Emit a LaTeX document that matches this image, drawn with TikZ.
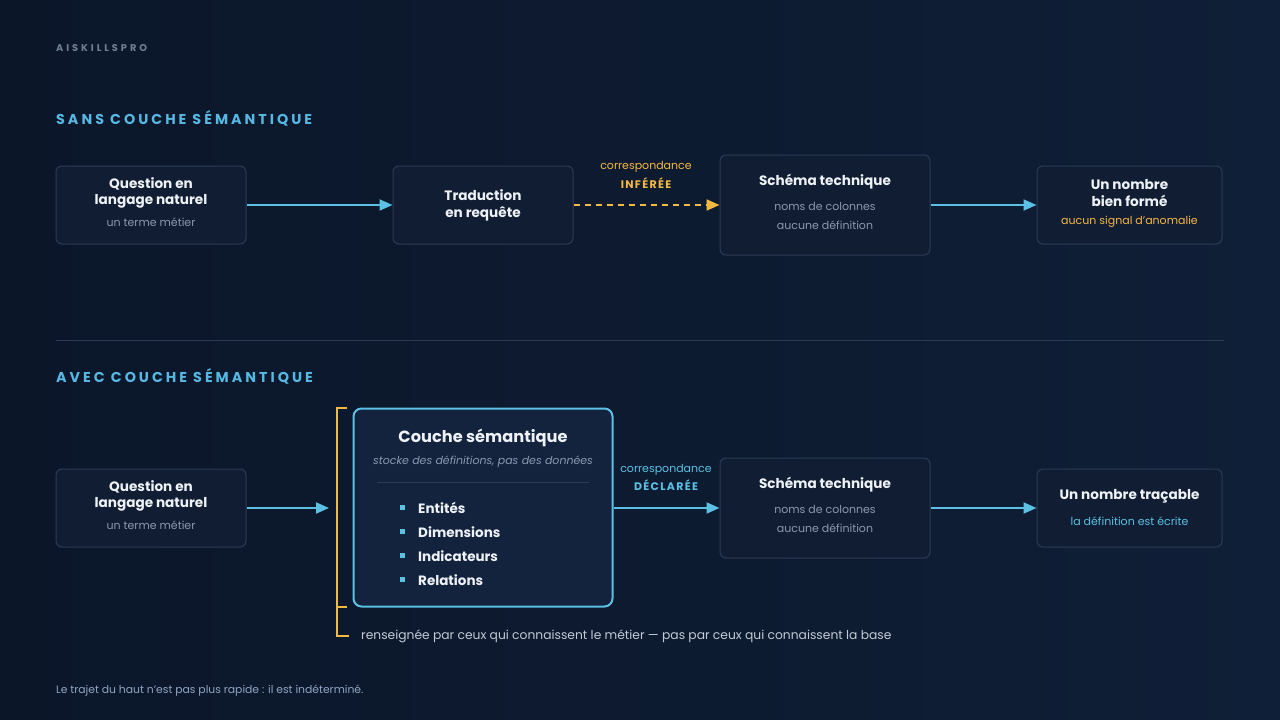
\documentclass[tikz,border=0pt]{standalone}
\usepackage{fontspec}
\setmainfont{Poppins}
\newfontfamily\spaced[LetterSpace=12]{Poppins}
\newfontfamily\hspaced[LetterSpace=21]{Poppins}
\newfontfamily\wide[LetterSpace=30]{Poppins}
\usetikzlibrary{arrows.meta}
\definecolor{bgA}{HTML}{0B1629}
\definecolor{bgB}{HTML}{0F1F37}
\definecolor{boxfill}{HTML}{111D33}
\definecolor{boxline}{HTML}{2B3B55}
\definecolor{semfill}{HTML}{13223D}
\definecolor{txt}{HTML}{EEF2F7}
\definecolor{sub}{HTML}{8A9AB0}
\definecolor{accent}{HTML}{5BC0E4}
\definecolor{head}{HTML}{56B8E2}
\definecolor{amber}{HTML}{F4B942}
\definecolor{brand}{HTML}{6F7F95}
\definecolor{foot}{HTML}{8FA6C4}
\definecolor{capt}{HTML}{C3CBD6}
\tikzset{
  box/.style={draw=boxline, fill=boxfill, rounded corners=6pt, line width=1pt, inner sep=0pt},
  ttl/.style={text=txt, font=\fontsize{13.6}{15}\selectfont\bfseries, inner sep=0pt, yshift=-1.3pt},
  sbt/.style={text=sub, font=\fontsize{11}{13}\selectfont, inner sep=0pt, yshift=-1pt},
  arr/.style={draw=accent, line width=2pt, -{Triangle[length=13pt,width=11pt]}},
  darr/.style={draw=amber, line width=2pt, dash pattern=on 6pt off 5pt, -{Triangle[length=13pt,width=11pt]}},
  hdr/.style={text=head, font=\hspaced\fontsize{14.3}{16}\selectfont\bfseries, anchor=west, inner sep=0pt},
  item/.style={text=txt, font=\fontsize{13.5}{16}\selectfont\bfseries, anchor=west, inner sep=0pt},
  bul/.style={fill=accent, minimum size=5pt, inner sep=0pt},
}
\begin{document}
\begin{tikzpicture}[x=1pt,y=-1pt]
\shade[left color=bgA, right color=bgB] (0,0) rectangle (1280,720);
\useasboundingbox (0,0) rectangle (1280,720);

\node[text=brand, font=\wide\fontsize{9.8}{11}\selectfont\bfseries, anchor=west, inner sep=0pt] (brand) at (56,48.5) {AISKILLSPRO};
\node[hdr] (h1) at (56,118) {SANS COUCHE SÉMANTIQUE};

% top row
\node[box, minimum width=190pt, minimum height=78pt] (b1) at (151,205) {};
\node[ttl] (b1a) at (151,183) {Question en};
\node[ttl] (b1b) at (151,200) {langage naturel};
\node[sbt] (b1c) at (151,221) {un terme métier};

\node[box, minimum width=180pt, minimum height=78pt] (b2) at (483,205) {};
\node[ttl] (b2a) at (483,194) {Traduction};
\node[ttl] (b2b) at (483,213) {en requête};

\node[box, minimum width=210pt, minimum height=100pt] (b3) at (825,205) {};
\node[ttl] (b3a) at (825,180) {Schéma technique};
\node[sbt] (b3b) at (825,205) {noms de colonnes};
\node[sbt] (b3c) at (825,224) {aucune définition};

\node[box, minimum width=185pt, minimum height=78pt] (b4) at (1129.5,205) {};
\node[ttl] (b4a) at (1129.5,183) {Un nombre};
\node[ttl] (b4b) at (1129.5,200) {bien formé};
\node[sbt, text=amber] (b4c) at (1129.5,221) {aucun signal d'anomalie};

\node[text=amber, font=\fontsize{11}{13}\selectfont, inner sep=0pt] (l1a) at (646,166.5) {correspondance};
\node[text=amber, font=\spaced\fontsize{11}{13}\selectfont\bfseries, inner sep=0pt] (l1b) at (646,183.5) {INFÉRÉE};

\draw[arr] (b1.east) -- (b2.west);
\draw[darr] (b2.east) -- (b3.west);
\draw[arr] (b3.east) -- (b4.west);

% separator
\coordinate (s1) at (56,340);
\coordinate (s2) at (1224,340);
\draw[boxline, line width=1pt] (s1) -- (s2);

\node[hdr] (h2) at (56,376) {AVEC COUCHE SÉMANTIQUE};

% bottom row
\node[box, minimum width=190pt, minimum height=78pt] (c1) at (151,508) {};
\node[ttl] (c1a) at (151,486) {Question en};
\node[ttl] (c1b) at (151,503) {langage naturel};
\node[sbt] (c1c) at (151,524) {un terme métier};

% bracket
\coordinate (k1) at (347,408);
\coordinate (k2) at (337,408);
\coordinate (k3) at (337,636);
\coordinate (k4) at (349,636);
\coordinate (k5) at (337,607);
\coordinate (k6) at (347,607);
\coordinate (ain) at (329,508);
\draw[amber, line width=1.6pt] (k1) -- (k2) -- (k3) -- (k4);
\draw[amber, line width=1.6pt] (k5) -- (k6);

\node[draw=accent, fill=semfill, rounded corners=8pt, line width=2pt, minimum width=259pt, minimum height=198pt, inner sep=0pt] (sem) at (483,507.5) {};
\node[text=txt, font=\fontsize{16.2}{19}\selectfont\bfseries, inner sep=0pt] (semt) at (483,438) {Couche sémantique};
\node[text=sub, font=\fontsize{11}{13}\selectfont\itshape, inner sep=0pt] (sems) at (483,462) {stocke des définitions, pas des données};
\coordinate (r1) at (377,482);
\coordinate (r2) at (589,482);
\draw[boxline, line width=1pt] (r1) -- (r2);
\node[bul] (u1) at (402.5,507) {};
\node[item] (i1) at (418,508) {Entités};
\node[bul] (u2) at (402.5,531) {};
\node[item] (i2) at (418,532) {Dimensions};
\node[bul] (u3) at (402.5,555) {};
\node[item] (i3) at (418,556) {Indicateurs};
\node[bul] (u4) at (402.5,579) {};
\node[item] (i4) at (418,580) {Relations};

\node[box, minimum width=210pt, minimum height=100pt] (c3) at (825,508) {};
\node[ttl] (c3a) at (825,483) {Schéma technique};
\node[sbt] (c3b) at (825,508) {noms de colonnes};
\node[sbt] (c3c) at (825,527) {aucune définition};

\node[box, minimum width=185pt, minimum height=78pt] (c4) at (1129.5,508) {};
\node[ttl] (c4a) at (1129.5,495) {Un nombre traçable};
\node[sbt, text=accent] (c4b) at (1129.5,520) {la définition est écrite};

\node[text=accent, font=\fontsize{11}{13}\selectfont, inner sep=0pt] (l2a) at (666,469.5) {correspondance};
\node[text=accent, font=\spaced\fontsize{11}{13}\selectfont\bfseries, inner sep=0pt] (l2b) at (666,485.5) {DÉCLARÉE};

\draw[arr] (c1.east) -- (ain);
\draw[arr] (sem.east |- c3.west) -- (c3.west);
\draw[arr] (c3.east) -- (c4.west);

\node[text=capt, font=\fontsize{12.3}{15}\selectfont, anchor=west, inner sep=0pt] (cap) at (361,636.5) {renseignée par ceux qui connaissent le métier — pas par ceux qui connaissent la base};

\node[text=foot, font=\fontsize{10.8}{13}\selectfont, anchor=west, inner sep=0pt] (foot) at (56,690.5) {Le trajet du haut n'est pas plus rapide : il est indéterminé.};
\end{tikzpicture}
\end{document}
